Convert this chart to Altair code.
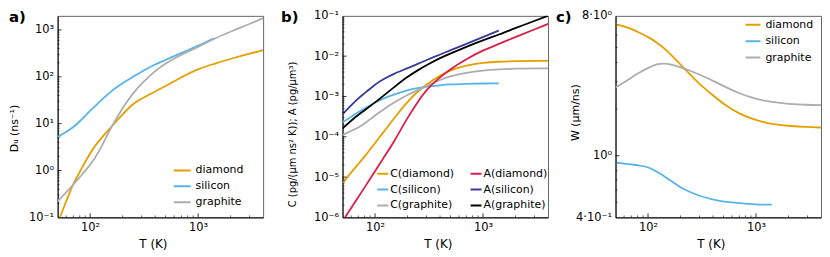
import altair as alt
import pandas as pd

FONT = "DejaVu Sans"
W, H = 207, 203
TOP = 6

# ---------------- data ----------------
T = [50, 60, 70, 80, 100, 120, 150, 200, 250, 300, 400, 500, 700, 1000, 1400, 2000, 3000, 4000]
T_SI = T[:15]  # silicon curves stop at 1400 K

# panel a: D_U (ns^-1)
DU_DIAMOND = [0.075, 0.22, 0.54, 0.92, 2.4, 4.3, 7.6, 16, 27, 34, 49, 63, 99, 148, 188, 243, 314, 369]
DU_SILICON = [5.2, 6.6, 8.5, 11, 19, 28, 46, 74, 100, 130, 185, 228, 325, 455, 665]
DU_GRAPHITE = [0.22, 0.34, 0.50, 0.72, 1.3, 2.4, 7.0, 22, 45, 72, 135, 195, 300, 430, 650, 920, 1350, 1780]

# panel b: C and A
C_DIAMOND = [7e-6, 1.3e-5, 2.1e-5, 3.2e-5, 7e-5, 1.3e-4, 2.9e-4, 7.5e-4, 1.35e-3, 2.0e-3, 3.3e-3, 4.5e-3,
             6.0e-3, 6.9e-3, 7.3e-3, 7.5e-3, 7.6e-3, 7.7e-3]
C_SILICON = [2.3e-4, 3.1e-4, 4.1e-4, 5.0e-4, 7.1e-4, 9e-4, 1.12e-3, 1.45e-3, 1.62e-3, 1.74e-3, 1.9e-3, 2.0e-3,
             2.05e-3, 2.1e-3, 2.12e-3]
C_GRAPHITE = [1.1e-4, 1.4e-4, 1.7e-4, 2.1e-4, 3.4e-4, 4.8e-4, 7.1e-4, 1.1e-3, 1.45e-3, 1.8e-3, 2.6e-3, 3.2e-3,
              3.9e-3, 4.4e-3, 4.7e-3, 4.9e-3, 5.0e-3, 5.0e-3]
A_DIAMOND = [8e-7, 1.7e-6, 3.2e-6, 5.5e-6, 1.4e-5, 3e-5, 7.5e-5, 3e-4, 7.5e-4, 1.5e-3, 3.0e-3, 4.8e-3,
             8.5e-3, 1.4e-2, 2.0e-2, 3.0e-2, 4.6e-2, 6.3e-2]
A_SILICON = [3.6e-4, 6e-4, 9e-4, 1.2e-3, 2.0e-3, 2.7e-3, 3.7e-3, 5.0e-3, 6.5e-3, 8.0e-3, 1.1e-2, 1.4e-2,
             2.0e-2, 3.0e-2, 4.3e-2]
A_GRAPHITE = [1.6e-4, 2.5e-4, 3.5e-4, 4.5e-4, 7.1e-4, 1.05e-3, 1.7e-3, 3.1e-3, 4.5e-3, 6.0e-3, 9e-3, 1.17e-2,
              1.7e-2, 2.5e-2, 3.4e-2, 5.0e-2, 7.5e-2, 0.1]

# panel c: W (um/ns)
W_DIAMOND = [7.05, 6.85, 6.6, 6.3, 5.86, 5.4, 4.8, 3.87, 3.3, 2.89, 2.45, 2.16, 1.86, 1.69, 1.6, 1.56, 1.53, 1.52]
W_SILICON = [0.90, 0.89, 0.877, 0.87, 0.85, 0.79, 0.72, 0.62, 0.58, 0.55, 0.52, 0.506, 0.493, 0.484, 0.483]
W_GRAPHITE = [2.75, 2.98, 3.19, 3.4, 3.69, 3.93, 3.96, 3.74, 3.52, 3.34, 3.05, 2.82, 2.52, 2.32, 2.22, 2.16,
              2.13, 2.12]

# colours
ORANGE, BLUE, GRAY = "#E69F00", "#56B4E9", "#ADADAD"
CRIMSON, NAVY, BLACK = "#DC1E46", "#363C9C", "#000000"

# axis ticks / labels
X_MAJOR = [100, 1000]
X_LABELS = ["10²", "10³"]
X_MINOR = [60, 70, 80, 90, 200, 300, 400, 500, 600, 700, 800, 900, 2000, 3000]

A_YVALS = [0.1, 1, 10, 100, 1000]
A_YLABS = ["10⁻¹", "10⁰", "10¹", "10²", "10³"]
B_YVALS = [1e-6, 1e-5, 1e-4, 1e-3, 1e-2, 1e-1]
B_YLABS = ["10⁻⁶", "10⁻⁵", "10⁻⁴", "10⁻³", "10⁻²", "10⁻¹"]
C_YVALS = [0.4, 1, 8]
C_YLABS = ["4·10⁻¹", "10⁰", "8·10⁰"]


def minors(lo_exp, hi_exp, lo, hi):
    out = []
    for e in range(lo_exp, hi_exp + 1):
        for k in range(2, 10):
            v = k * 10.0 ** e
            if lo < v < hi:
                out.append(v)
    return out


def label_expr(vals, labs):
    expr = "''"
    for v, l in reversed(list(zip(vals, labs))):
        expr = f"(abs(datum.value/{v} - 1) < 1e-6) ? '{l}' : ({expr})"
    return expr


def long_df(series):
    rows = []
    for name, ts, vs in series:
        for t, v in zip(ts, vs):
            rows.append({"T": t, "v": v, "s": name})
    return pd.DataFrame(rows)


def panel(df, order, colors, ydom, yvals, ylabs, ymaj, ymin, ytitle, tx, ty, tsize,
          tag, tag_x, L, R, legend):
    xs = alt.Scale(type="log", domain=[50, 4000], nice=False)
    ys = alt.Scale(type="log", domain=ydom, nice=False)
    xaxis = alt.Axis(values=X_MAJOR, labelExpr=label_expr(X_MAJOR, X_LABELS), ticks=False, grid=False,
                     title="T (K)", labelFlush=False, labelOverlap=False, labelPadding=4,
                     titleX=96, titleY=26, titleAlign="center", titleBaseline="middle",
                     titleFontSize=12)
    yaxis = alt.Axis(values=yvals, labelExpr=label_expr(yvals, ylabs), ticks=False, grid=False,
                     title=ytitle, labelFlush=False, labelOverlap=False, labelPadding=4,
                     titleX=tx, titleY=ty, titleAlign="center", titleBaseline="middle",
                     titleFontSize=tsize)
    lines = alt.Chart(df).mark_line(clip=True, strokeWidth=1.8, interpolate="basis").encode(
        x=alt.X("T:Q", scale=xs, axis=xaxis),
        y=alt.Y("v:Q", scale=ys, axis=yaxis),
        color=alt.Color("s:N", scale=alt.Scale(domain=order, range=colors), legend=legend),
    )
    ymaj_r = alt.Chart(pd.DataFrame({"v": ymaj})).mark_rule(color="black", strokeWidth=0.8).encode(
        y=alt.Y("v:Q", scale=ys, axis=None), x=alt.value(0), x2=alt.value(4))
    ymin_r = alt.Chart(pd.DataFrame({"v": ymin})).mark_rule(color="black", strokeWidth=0.6).encode(
        y=alt.Y("v:Q", scale=ys, axis=None), x=alt.value(0), x2=alt.value(2))
    xmaj_r = alt.Chart(pd.DataFrame({"T": X_MAJOR})).mark_rule(color="black", strokeWidth=0.8).encode(
        x=alt.X("T:Q", scale=xs, axis=None), y=alt.value(H), y2=alt.value(H - 4))
    xmin_r = alt.Chart(pd.DataFrame({"T": X_MINOR})).mark_rule(color="black", strokeWidth=0.6).encode(
        x=alt.X("T:Q", scale=xs, axis=None), y=alt.value(H), y2=alt.value(H - 2))
    tag_t = alt.Chart(pd.DataFrame({"t": [tag]})).mark_text(
        font=FONT, fontSize=15, fontWeight="bold", align="left", baseline="alphabetic", color="black"
    ).encode(x=alt.value(tag_x), y=alt.value(6), text="t:N")
    box = alt.Chart(pd.DataFrame({"t": [0]})).mark_rect(opacity=0).encode(
        x=alt.value(-L), x2=alt.value(W + R), y=alt.value(-TOP), y2=alt.value(H + 36))
    return alt.layer(box, lines, ymaj_r, ymin_r, xmaj_r, xmin_r, tag_t).resolve_axis(
        x="independent", y="independent").properties(width=W, height=H)


def legend(x, y, size, offset, clip, rowpad, columns=1, colpad=10):
    return alt.Legend(orient="none", legendX=x, legendY=y, title=None, symbolType="stroke",
                      symbolSize=size, symbolStrokeWidth=2, labelFont=FONT, labelFontSize=11,
                      labelColor="black", labelOffset=offset, clipHeight=clip, rowPadding=rowpad,
                      columns=columns, columnPadding=colpad, padding=0, labelLimit=0)


df_a = long_df([("diamond", T, DU_DIAMOND), ("silicon", T_SI, DU_SILICON), ("graphite", T, DU_GRAPHITE)])
df_b = long_df([("C(diamond)", T, C_DIAMOND), ("C(silicon)", T_SI, C_SILICON), ("C(graphite)", T, C_GRAPHITE),
                ("A(diamond)", T, A_DIAMOND), ("A(silicon)", T_SI, A_SILICON), ("A(graphite)", T, A_GRAPHITE)])
df_c = long_df([("diamond", T, W_DIAMOND), ("silicon", T_SI, W_SILICON), ("graphite", T, W_GRAPHITE)])

pa = panel(df_a, ["diamond", "silicon", "graphite"], [ORANGE, BLUE, GRAY], [0.1, 2000],
           A_YVALS, A_YLABS, [1, 10, 100, 1000], minors(-1, 3, 0.1, 2000),
           "Dᵤ (ns⁻¹)", -43.5, 113, 11, "a)", -49, 49, 14,
           legend(116, 149, 289, 4, 13.5, 2))
pb = panel(df_b, ["C(diamond)", "C(silicon)", "C(graphite)", "A(diamond)", "A(silicon)", "A(graphite)"],
           [ORANGE, BLUE, GRAY, CRIMSON, NAVY, BLACK], [1e-6, 0.1],
           B_YVALS, B_YLABS, [1e-5, 1e-4, 1e-3, 1e-2], minors(-6, -2, 1e-6, 0.1),
           "C (pg/(μm ns² K)); A (pg/μm³)", -50, 119, 10, "b)", -62, 64, 4,
           legend(34, 152, 121, 1, 14, 2, columns=2, colpad=15))
pc = panel(df_c, ["diamond", "silicon", "graphite"], [ORANGE, BLUE, GRAY], [0.4, 8],
           C_YVALS, C_YLABS, [1], minors(-1, 0, 0.4, 8),
           "W (μm/ns)", -40, 97, 11, "c)", -60, 62, 0,
           legend(130, 2, 225, 4, 14, 2.5))

chart = alt.hconcat(pa, pb, pc, spacing=0).resolve_scale(color="independent").properties(
    padding=0
).configure_view(stroke="#666666", strokeWidth=1).configure_axis(
    domainColor="black", domainWidth=1, labelColor="black", titleColor="black",
    labelFont=FONT, titleFont=FONT, labelFontSize=11.5, titleFontSize=11, titleFontWeight="normal"
)

chart.save("out.html", embed_options={"renderer": "svg", "actions": False})
